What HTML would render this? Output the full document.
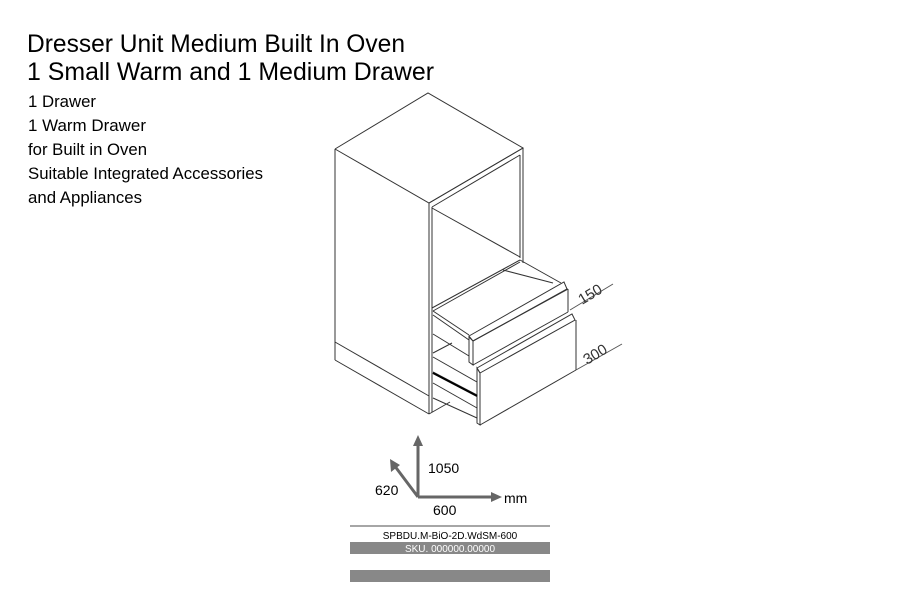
<!DOCTYPE html>
<html><head><meta charset="utf-8"><style>
html,body{margin:0;padding:0;background:#fff;}
svg{display:block;}
text{font-family:"Liberation Sans Narrow","Liberation Sans",sans-serif;}
</style></head><body>
<svg width="900" height="600" viewBox="0 0 900 600" xmlns="http://www.w3.org/2000/svg">
<g fill="#000">
<text x="27" y="52" font-size="25" textLength="378" lengthAdjust="spacingAndGlyphs">Dresser Unit Medium Built In Oven</text>
<text x="27" y="80" font-size="25" textLength="407" lengthAdjust="spacingAndGlyphs">1 Small Warm and 1 Medium Drawer</text>
<text x="28" y="107" font-size="17" textLength="68" lengthAdjust="spacingAndGlyphs">1 Drawer</text>
<text x="28" y="131" font-size="17" textLength="118" lengthAdjust="spacingAndGlyphs">1 Warm Drawer</text>
<text x="28" y="155" font-size="17" textLength="119" lengthAdjust="spacingAndGlyphs">for Built in Oven</text>
<text x="28" y="179" font-size="17" textLength="235" lengthAdjust="spacingAndGlyphs">Suitable Integrated Accessories</text>
<text x="28" y="203" font-size="17" textLength="114" lengthAdjust="spacingAndGlyphs">and Appliances</text>
</g>
<g fill="none" stroke="#333" stroke-width="1">
<!-- carcass -->
<polyline points="335,149 428,93 523,148 429,203 335,149"/>
<line x1="335" y1="149" x2="335" y2="360"/>
<line x1="335" y1="342" x2="429" y2="396"/>
<line x1="335" y1="360" x2="429" y2="414"/>
<line x1="429" y1="203" x2="429" y2="414"/>
<line x1="432" y1="207" x2="432" y2="412"/>
<line x1="429" y1="414" x2="450" y2="402"/>
<line x1="523" y1="148" x2="523" y2="263"/>
<line x1="520" y1="155" x2="520" y2="258"/>
<line x1="432" y1="207" x2="520" y2="155"/>
<line x1="429" y1="203" x2="523" y2="148"/>
<line x1="432" y1="208" x2="520" y2="257"/>
<!-- top drawer box -->
<line x1="432" y1="308" x2="520" y2="260"/>
<line x1="433" y1="311" x2="520" y2="262"/>
<line x1="520" y1="260" x2="561" y2="283"/>
<line x1="503" y1="270" x2="553" y2="283"/>
<line x1="433" y1="311" x2="469" y2="335"/>
<line x1="433" y1="315" x2="469" y2="340"/>
<line x1="433" y1="334" x2="469" y2="356"/>
<!-- top drawer front -->
<polygon points="469,336 564,282 567,289 473,341"/>
<polygon points="469,337 473,341 473,365 469,362"/>
<line x1="473" y1="341" x2="568" y2="289"/>
<line x1="568" y1="289" x2="568" y2="312"/>
<line x1="473" y1="365" x2="568" y2="312"/>
<!-- bottom drawer box -->
<line x1="433" y1="353" x2="452" y2="343"/>
<line x1="433" y1="357" x2="477" y2="382"/>
<line x1="433" y1="372" x2="477" y2="395"/>
<line x1="433" y1="383" x2="477" y2="408"/>
<line x1="433" y1="398" x2="477" y2="418"/>
<!-- bottom drawer front -->
<polygon points="477,368 572,314 575,320 480,373"/>
<polygon points="477,368 480,373 480,425 477,423"/>
<line x1="576" y1="320" x2="576" y2="370"/>
<line x1="480" y1="425" x2="576" y2="370"/>
<!-- dims -->
<line x1="570" y1="310" x2="613" y2="284" stroke="#555"/>
<line x1="576" y1="370" x2="622" y2="344" stroke="#555"/>
</g>
<line x1="433" y1="373" x2="477" y2="396" stroke="#000" stroke-width="2"/>
<g fill="#333" font-size="15">
<text transform="translate(582,305) rotate(-31)">150</text>
<text transform="translate(587,365) rotate(-31)">300</text>
</g>
<!-- axes -->
<g stroke="#666" stroke-width="3" fill="none">
<line x1="418" y1="497" x2="418" y2="442"/>
<line x1="418" y1="497" x2="394" y2="465"/>
<line x1="418" y1="497" x2="494" y2="497"/>
</g>
<g fill="#666">
<polygon points="418,435 413,446 423,446"/>
<polygon points="390,459 391,472 400,465"/>
<polygon points="502,497 491,492 491,502"/>
</g>
<g fill="#000" font-size="14" font-family="Liberation Sans, sans-serif">
<text x="428" y="473">1050</text>
<text x="375" y="495">620</text>
<text x="433" y="515">600</text>
<text x="504" y="503">mm</text>
</g>
<line x1="350" y1="526" x2="550" y2="526" stroke="#888" stroke-width="1.5"/>
<text x="450" y="539" font-size="10" text-anchor="middle" fill="#000" font-family="Liberation Sans, sans-serif">SPBDU.M-BiO-2D.WdSM-600</text>
<rect x="350" y="542" width="200" height="12" fill="#888"/>
<text x="450" y="552" font-size="10" text-anchor="middle" fill="#fff" font-family="Liberation Sans, sans-serif">SKU. 000000.00000</text>
<rect x="350" y="570" width="200" height="12" fill="#888"/>
</svg>
</body></html>
